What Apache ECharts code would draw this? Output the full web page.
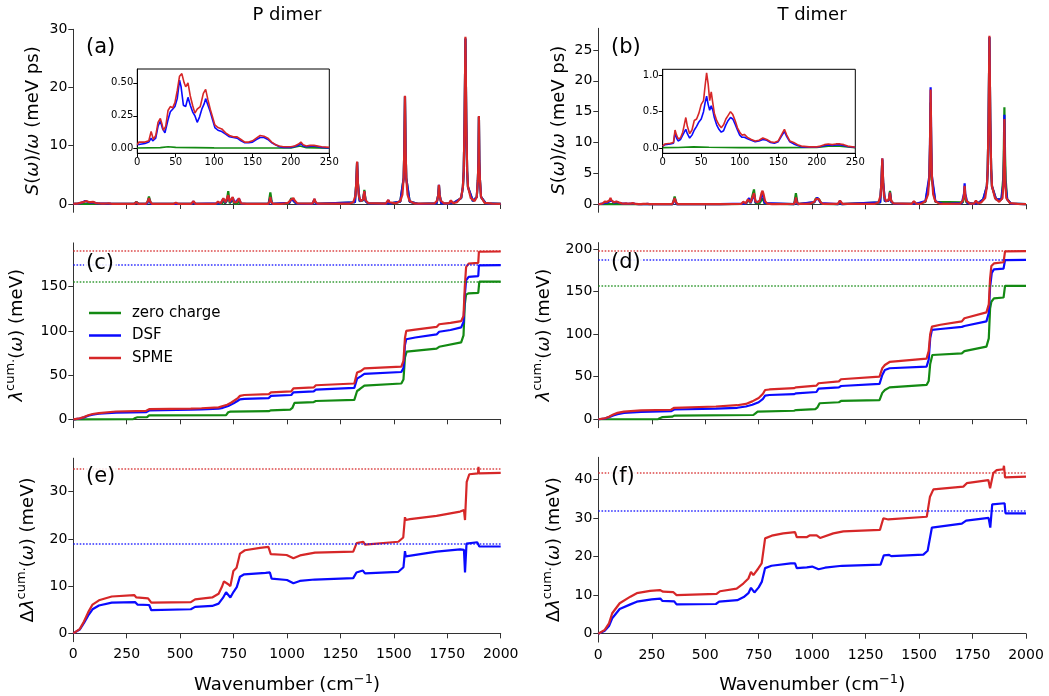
<!DOCTYPE html>
<html>
<head>
<meta charset="utf-8">
<script src="https://cdn.jsdelivr.net/npm/echarts@6/dist/echarts.min.js"></script>
<style>html,body{margin:0;background:#fff}#chart{width:1049px;height:696px}</style>
</head>
<body>
<div id="chart"></div>
<script>
// series names (legend) and colours
const seriesNames = ['zero charge', 'DSF', 'SPME'];
const xTicks = [0, 250, 500, 750, 1000, 1250, 1500, 1750, 2000];

// ---- inset data, low frequency S(w)/w, 0-250 cm-1 ----
const lowRedA = [[0,0.03],[2,0.05],[10,0.05],[15,0.06],[18,0.13],[21,0.07],[24,0.10],[27,0.20],[30,0.23],[32,0.19],[34,0.14],[37,0.17],[40,0.29],[43,0.32],[46,0.31],[49,0.35],[52,0.44],[55,0.55],[58,0.57],[61,0.50],[63,0.47],[66,0.50],[69,0.40],[72,0.33],[75,0.27],[78,0.30],[82,0.32],[86,0.42],[89,0.45],[92,0.37],[95,0.30],[98,0.24],[101,0.18],[105,0.16],[110,0.15],[115,0.12],[120,0.10],[125,0.09],[130,0.09],[135,0.07],[140,0.05],[145,0.05],[150,0.06],[155,0.08],[160,0.10],[165,0.095],[170,0.08],[175,0.05],[180,0.03],[185,0.02],[190,0.015],[200,0.015],[205,0.02],[210,0.035],[213,0.05],[216,0.03],[220,0.02],[225,0.025],[230,0.025],[240,0.015],[250,0.01]];
const lowBlueA = [[0,0.03],[10,0.04],[15,0.05],[18,0.08],[20,0.06],[24,0.08],[27,0.17],[30,0.21],[33,0.15],[36,0.12],[40,0.22],[43,0.28],[46,0.30],[49,0.32],[52,0.38],[55,0.52],[57,0.47],[60,0.33],[63,0.32],[66,0.39],[69,0.33],[72,0.28],[75,0.25],[78,0.20],[81,0.24],[84,0.30],[87,0.34],[89,0.38],[92,0.33],[95,0.28],[98,0.22],[101,0.16],[105,0.14],[110,0.13],[115,0.11],[120,0.09],[125,0.085],[130,0.08],[135,0.06],[140,0.045],[145,0.045],[150,0.05],[155,0.07],[160,0.085],[165,0.085],[170,0.07],[175,0.045],[180,0.03],[185,0.015],[190,0.01],[200,0.01],[210,0.025],[213,0.04],[216,0.02],[220,0.015],[230,0.02],[240,0.01],[250,0.005]];
const lowGreenA = [[0,0.005],[30,0.008],[40,0.015],[50,0.01],[100,0.006],[150,0.005],[200,0.006],[212,0.02],[220,0.008],[250,0.004]];

const lowRedB = [[0,0.03],[3,0.06],[10,0.07],[14,0.08],[16,0.25],[18,0.18],[20,0.13],[23,0.14],[26,0.22],[28,0.32],[30,0.42],[32,0.30],[35,0.20],[38,0.25],[41,0.38],[44,0.40],[47,0.48],[50,0.60],[53,0.65],[55,0.85],[57,1.03],[59,0.88],[61,0.65],[63,0.77],[65,0.62],[67,0.48],[70,0.38],[73,0.32],[76,0.28],[79,0.32],[82,0.40],[85,0.45],[88,0.50],[91,0.46],[94,0.38],[97,0.28],[100,0.22],[103,0.18],[106,0.19],[110,0.15],[115,0.12],[120,0.10],[125,0.11],[130,0.14],[135,0.12],[140,0.09],[145,0.08],[150,0.10],[155,0.20],[158,0.26],[161,0.18],[165,0.10],[170,0.08],[175,0.05],[180,0.03],[190,0.02],[200,0.02],[205,0.03],[210,0.05],[215,0.06],[220,0.05],[225,0.06],[230,0.06],[235,0.05],[240,0.03],[250,0.015]];
const lowBlueB = [[0,0.03],[3,0.05],[10,0.06],[14,0.07],[16,0.21],[18,0.14],[20,0.10],[23,0.12],[26,0.18],[28,0.22],[30,0.26],[32,0.20],[35,0.14],[38,0.18],[41,0.25],[44,0.30],[47,0.36],[50,0.40],[53,0.50],[55,0.62],[57,0.71],[59,0.60],[61,0.52],[63,0.58],[65,0.52],[67,0.42],[70,0.32],[73,0.26],[76,0.22],[79,0.24],[82,0.32],[85,0.38],[88,0.42],[91,0.40],[94,0.33],[97,0.25],[100,0.18],[103,0.15],[106,0.15],[110,0.13],[115,0.11],[120,0.09],[125,0.10],[130,0.12],[135,0.11],[140,0.08],[145,0.07],[150,0.09],[155,0.18],[158,0.23],[161,0.16],[165,0.09],[170,0.06],[175,0.04],[180,0.02],[190,0.015],[200,0.015],[210,0.035],[215,0.045],[220,0.04],[225,0.045],[230,0.05],[240,0.025],[250,0.01]];
const lowGreenB = [[0,0.01],[20,0.012],[40,0.02],[60,0.015],[100,0.01],[150,0.01],[200,0.012],[215,0.03],[230,0.03],[250,0.01]];

// ---- S(w)/w above 250 cm-1 ----
const peakRedA = [[260,0.02],[285,0.03],[295,0.3],[305,0.03],[340,0.03],[348,0.4],[354,1.0],[360,0.4],[368,0.03],[470,0.02],[480,0.2],[490,0.02],[552,0.03],[562,0.5],[572,0.03],[667,0.03],[677,0.4],[690,0.1],[702,1.0],[712,0.3],[718,0.6],[725,1.5],[732,0.4],[740,0.5],[746,1.2],[752,0.3],[765,0.3],[775,1.0],[785,0.1],[812,0.02],[820,0.2],[828,0.02],[912,0.03],[918,0.4],[922,1.2],[926,0.4],[934,0.03],[972,0.02],[980,0.2],[990,0.1],[1005,0.2],[1015,0.6],[1022,0.9],[1030,1.0],[1036,0.6],[1048,0.1],[1118,0.05],[1124,0.4],[1128,0.9],[1133,0.4],[1142,0.05],[1290,0.05],[1310,0.3],[1320,1.4],[1324,3.5],[1328,7.3],[1332,3.5],[1336,1.4],[1345,0.5],[1356,0.8],[1362,2.2],[1367,0.7],[1380,0.15],[1462,0.05],[1470,0.3],[1474,0.7],[1479,0.3],[1488,0.05],[1510,0.1],[1530,0.5],[1540,1.6],[1546,4.5],[1549,9.5],[1552,18.6],[1555,9.5],[1558,4.5],[1564,1.6],[1574,0.5],[1595,0.1],[1612,0.05],[1618,0.3],[1624,0.05],[1690,0.1],[1703,0.6],[1708,1.6],[1711,3.3],[1714,1.6],[1719,0.6],[1735,0.1],[1758,0.1],[1767,0.6],[1776,0.15],[1795,0.3],[1815,1.1],[1823,2.9],[1827,5.7],[1831,14.3],[1835,28.7],[1839,14.3],[1843,5.7],[1847,2.9],[1860,1.0],[1878,0.5],[1888,1.2],[1893,4.0],[1896,7.5],[1898,15.1],[1900,7.5],[1903,4.0],[1908,1.2],[1925,0.2],[1960,0.05],[2000,0.02]];
const peakBlueA = [[260,0.01],[285,0.02],[295,0.25],[305,0.02],[345,0.02],[354,0.9],[363,0.02],[555,0.02],[562,0.45],[569,0.02],[690,0.1],[702,0.9],[712,0.2],[725,1.3],[735,0.3],[746,1.1],[755,0.2],[775,0.9],[785,0.05],[914,0.02],[922,1.1],[930,0.02],[1010,0.2],[1022,0.85],[1030,0.95],[1045,0.05],[1120,0.03],[1128,0.85],[1136,0.03],[1318,0.3],[1324,3.4],[1328,7.2],[1332,3.4],[1340,0.5],[1356,0.7],[1362,2.1],[1368,0.5],[1380,0.1],[1468,0.05],[1474,0.65],[1480,0.05],[1530,0.4],[1546,4.4],[1549,9.3],[1552,18.5],[1555,9.3],[1558,4.4],[1574,0.4],[1612,0.02],[1618,0.28],[1624,0.02],[1700,0.1],[1708,1.6],[1711,3.3],[1714,1.6],[1722,0.1],[1760,0.05],[1767,0.55],[1774,0.05],[1815,1.0],[1823,2.9],[1827,5.6],[1831,14.1],[1835,28.4],[1839,14.1],[1843,5.6],[1847,2.9],[1870,0.5],[1888,1.2],[1893,4.0],[1896,7.4],[1898,15.0],[1900,7.4],[1903,4.0],[1908,1.2],[1930,0.1],[2000,0.01]];
const peakGreenA = [[260,0.005],[285,0.02],[295,0.4],[305,0.02],[345,0.02],[354,1.3],[363,0.02],[555,0.02],[562,0.4],[569,0.02],[695,0.02],[702,0.6],[710,0.1],[718,0.5],[725,2.2],[732,0.1],[740,0.2],[746,0.8],[752,0.05],[768,0.05],[775,0.6],[782,0.02],[914,0.02],[922,2.0],[930,0.02],[1010,0.1],[1020,1.0],[1028,1.2],[1036,0.3],[1048,0.02],[1120,0.02],[1128,0.7],[1136,0.02],[1318,0.3],[1324,3.5],[1328,7.2],[1332,3.5],[1340,0.5],[1356,0.6],[1362,2.4],[1368,0.5],[1380,0.1],[1468,0.05],[1474,0.6],[1480,0.05],[1530,0.4],[1546,4.5],[1549,9.5],[1552,18.4],[1555,9.5],[1558,4.5],[1574,0.4],[1612,0.02],[1618,0.25],[1624,0.02],[1700,0.1],[1708,1.6],[1711,3.2],[1714,1.6],[1722,0.1],[1760,0.05],[1767,0.5],[1774,0.05],[1815,1.0],[1823,2.9],[1827,5.6],[1831,14.1],[1835,28.4],[1839,14.1],[1843,5.6],[1847,2.9],[1870,0.5],[1888,1.2],[1893,4.0],[1896,7.5],[1898,15.0],[1900,7.5],[1903,4.0],[1908,1.2],[1930,0.1],[2000,0.01]];

const peakRedB = [[260,0.015],[288,0.02],[296,0.15],[304,0.02],[345,0.03],[351,0.4],[357,1.0],[363,0.4],[370,0.03],[552,0.03],[561,0.3],[570,0.03],[668,0.05],[678,0.4],[690,0.15],[700,0.8],[705,1.1],[712,0.3],[720,0.6],[728,1.8],[735,0.5],[745,0.3],[755,0.6],[763,1.8],[768,2.2],[773,1.6],[780,0.5],[790,0.1],[812,0.03],[820,0.3],[828,0.03],[915,0.05],[920,0.4],[924,1.1],[928,0.4],[935,0.05],[970,0.05],[979,0.3],[990,0.1],[1010,0.4],[1018,0.9],[1024,1.2],[1032,0.8],[1040,0.3],[1050,0.05],[1120,0.05],[1126,0.3],[1130,0.6],[1135,0.3],[1142,0.05],[1290,0.05],[1310,0.3],[1320,1.4],[1324,3.6],[1328,7.45],[1332,3.6],[1336,1.4],[1345,0.5],[1358,0.7],[1364,1.9],[1369,0.6],[1380,0.15],[1465,0.05],[1471,0.2],[1476,0.5],[1481,0.2],[1488,0.05],[1510,0.1],[1530,0.5],[1542,1.6],[1548,4.5],[1551,9.5],[1554,18.6],[1557,9.5],[1560,4.5],[1566,1.6],[1576,0.5],[1595,0.1],[1614,0.05],[1621,0.3],[1628,0.05],[1692,0.1],[1705,0.6],[1710,1.5],[1713,3.0],[1716,1.5],[1721,0.6],[1737,0.1],[1757,0.1],[1766,0.6],[1775,0.15],[1790,0.3],[1809,1.0],[1817,2.9],[1821,5.7],[1825,13.6],[1829,27.3],[1833,13.6],[1837,5.7],[1841,2.9],[1855,1.0],[1875,0.4],[1890,1.0],[1895,3.5],[1897,7.0],[1899,13.8],[1901,7.0],[1903,3.5],[1908,1.0],[1925,0.2],[1960,0.05],[2000,0.02]];
const peakBlueB = [[260,0.01],[288,0.02],[296,0.15],[304,0.02],[348,0.02],[357,0.95],[366,0.02],[555,0.02],[561,0.28],[567,0.02],[690,0.1],[705,1.0],[712,0.2],[728,1.6],[735,0.3],[755,0.5],[768,1.9],[778,0.2],[916,0.03],[924,1.0],[932,0.03],[1010,0.35],[1024,1.1],[1040,0.2],[1122,0.03],[1130,0.55],[1138,0.03],[1318,0.3],[1324,3.6],[1328,7.4],[1332,3.6],[1340,0.5],[1358,0.6],[1364,1.9],[1370,0.4],[1382,0.1],[1470,0.05],[1476,0.45],[1482,0.05],[1530,0.5],[1548,4.6],[1551,9.7],[1554,18.95],[1557,9.7],[1560,4.6],[1576,0.5],[1614,0.05],[1621,0.3],[1628,0.05],[1700,0.2],[1710,1.7],[1713,3.4],[1716,1.7],[1726,0.2],[1760,0.05],[1766,0.55],[1772,0.05],[1800,0.8],[1817,2.9],[1821,5.7],[1825,13.5],[1829,27.1],[1833,13.5],[1837,5.7],[1841,2.9],[1860,0.8],[1885,0.8],[1895,3.6],[1897,7.2],[1899,14.5],[1901,7.2],[1903,3.6],[1912,0.8],[1930,0.1],[2000,0.01]];
const peakGreenB = [[260,0.02],[288,0.02],[296,0.2],[304,0.02],[348,0.02],[357,1.25],[366,0.02],[555,0.02],[561,0.25],[567,0.02],[690,0.05],[700,0.7],[705,0.9],[712,0.2],[720,0.5],[728,2.4],[735,0.2],[755,0.2],[768,1.0],[778,0.1],[916,0.02],[924,1.8],[932,0.02],[1010,0.3],[1018,1.0],[1024,1.3],[1032,0.8],[1045,0.05],[1122,0.02],[1130,0.5],[1138,0.02],[1318,0.3],[1324,3.5],[1328,7.2],[1332,3.5],[1340,0.5],[1358,0.6],[1364,2.16],[1370,0.4],[1382,0.1],[1470,0.05],[1476,0.4],[1482,0.05],[1530,0.4],[1548,4.0],[1551,8.5],[1554,16.5],[1557,8.5],[1560,4.0],[1576,0.4],[1705,0.3],[1713,1.8],[1721,0.3],[1760,0.05],[1766,0.5],[1772,0.05],[1800,0.8],[1817,2.9],[1821,5.7],[1825,13.5],[1829,27.0],[1833,13.5],[1837,5.7],[1841,2.9],[1860,0.8],[1885,0.8],[1893,4.0],[1896,8.0],[1899,15.7],[1902,8.0],[1905,4.0],[1912,0.8],[1930,0.1],[2000,0.01]];

// ---- cumulative reorganisation energy (meV) ----
const cumRedC = [[0,0],[30,1],[50,2.5],[70,4.5],[90,6],[120,7],[200,8.8],[340,9.5],[355,11.5],[550,12],[600,12.5],[680,13.5],[700,15],[720,16.5],[740,19],[770,24],[780,26.5],[800,27.5],[915,28.5],[925,30.5],[1020,31.5],[1030,35],[1125,36],[1135,38.5],[1315,40.5],[1328,53],[1345,54.5],[1362,57.5],[1535,59.5],[1545,66],[1552,92],[1558,100],[1600,101.5],[1700,104.5],[1712,107.5],[1765,109],[1815,111],[1826,117],[1832,150],[1838,172],[1850,176],[1895,177],[1898,189.5],[2000,189.8]];
const cumBlueC = [[0,0],[30,0.8],[50,2.2],[70,4],[90,5.2],[120,6.3],[200,7.5],[340,8],[355,10],[550,10.8],[600,11.2],[680,12],[700,13],[725,15],[750,18],[770,21],[780,22.5],[800,23],[915,24],[925,26.5],[1020,27.5],[1030,30.5],[1125,31.5],[1135,33.5],[1315,35.5],[1328,46],[1345,48.5],[1362,51.3],[1535,53.5],[1545,58],[1552,84],[1558,90.5],[1600,92.5],[1700,96],[1712,99],[1765,101],[1815,104],[1826,110],[1832,140],[1838,157],[1850,161],[1895,162],[1898,174],[2000,174.3]];
const cumGreenC = [[0,0],[280,0.2],[290,1.5],[300,2.3],[345,2.5],[355,4.5],[715,4.8],[725,8],[735,8.7],[915,9.2],[925,10.2],[1015,11],[1025,12.8],[1035,18.5],[1125,19.5],[1135,20.7],[1315,22],[1328,32],[1340,34],[1362,38],[1535,40.5],[1545,45],[1552,70],[1560,76.5],[1700,80],[1712,82],[1815,87],[1826,95],[1832,130],[1838,141],[1850,142.5],[1895,143],[1900,155.7],[2000,155.7]];
const refC = [155.7, 174.8, 190.7];

const cumRedD = [[0,0],[30,1],[50,3],[70,5.5],[90,7.5],[120,9],[200,10.5],[340,11.2],[355,13.5],[550,15],[650,16.5],[690,18],[720,21],[750,25],[770,30],[780,34.4],[800,35],[915,36.5],[925,37.5],[1020,39.5],[1030,42.3],[1125,44.5],[1135,47],[1315,50],[1328,60],[1340,63.8],[1362,67.3],[1535,71.2],[1545,80],[1552,100],[1560,108.8],[1600,111],[1700,115],[1712,118.6],[1815,125.5],[1826,135],[1832,165],[1838,180],[1850,183],[1895,184.4],[1902,197.3],[2000,197.6]];
const cumBlueD = [[0,0],[30,0.8],[50,2.5],[70,4.5],[90,6],[120,7.5],[200,8.8],[340,9.5],[355,11.5],[550,12.5],[650,13.5],[690,15],[720,17],[750,20],[770,24],[780,27.8],[800,28.5],[915,29.5],[925,30.5],[1020,32],[1030,36],[1125,37.5],[1135,39.1],[1315,41.5],[1328,52],[1340,57.9],[1362,59.9],[1535,61.8],[1545,70],[1552,95],[1560,104.9],[1600,106],[1700,108.5],[1712,109.6],[1815,115],[1826,125],[1832,155],[1840,172],[1850,176],[1895,177],[1902,187],[2000,187.3]];
const cumGreenD = [[0,0],[280,0.2],[290,1.5],[300,2.5],[345,3],[355,4.3],[725,5],[735,7],[745,9],[915,10],[925,10.8],[1015,12],[1025,14],[1035,18.8],[1125,20],[1135,21.5],[1315,22.5],[1328,31],[1340,34.4],[1362,37.5],[1535,40.3],[1545,45],[1552,65],[1562,75.5],[1700,77.5],[1712,80],[1815,85.3],[1826,95],[1832,130],[1838,138],[1850,142],[1895,143],[1902,156.6],[2000,156.6]];
const refD = [156.6, 187.9, 197.6];

// ---- difference to zero charge (meV) ----
const diffRedE = [[0,0],[30,0.9],[50,2.5],[70,4.5],[90,6.1],[120,7.0],[180,7.8],[285,8.1],[295,7.6],[350,7.4],[365,6.5],[550,6.6],[570,7.2],[650,7.6],[680,8.4],[695,9.8],[705,11.0],[713,11.3],[725,10.4],[735,10.0],[749,13.2],[764,13.9],[780,16.9],[803,17.6],[874,18.1],[913,18.3],[924,16.8],[998,16.6],[1030,15.9],[1061,16.5],[1131,17.1],[1310,17.3],[1326,19.1],[1357,19.4],[1365,18.8],[1521,19.4],[1544,20.3],[1552,24.6],[1556,24.0],[1576,24.2],[1700,24.9],[1810,25.8],[1828,26.1],[1833,24.0],[1841,32.1],[1853,33.7],[1894,33.9],[1896,35.3],[1898,33.9],[2000,34.0]];
const diffBlueE = [[0,0],[30,0.8],[50,2.2],[70,3.8],[90,5.1],[120,5.9],[180,6.5],[290,6.6],[300,6.1],[355,6.0],[365,4.9],[550,5.1],[570,5.6],[650,5.8],[680,6.3],[700,7.5],[715,8.7],[735,7.6],[750,8.8],[765,9.8],[780,12.0],[800,12.5],[900,12.8],[920,12.9],[928,11.6],[1000,11.3],[1030,10.6],[1060,11.1],[1130,11.4],[1310,11.7],[1325,12.9],[1355,13.3],[1365,12.7],[1520,13.0],[1545,14.0],[1552,17.4],[1556,16.3],[1560,16.6],[1700,17.3],[1810,17.8],[1828,17.7],[1833,12.9],[1840,19.0],[1890,19.3],[1898,19.5],[1900,18.4],[2000,18.4]];
const refE = [18.9, 34.8];

const diffRedF = [[0,0],[30,1.0],[50,2.7],[65,5.3],[100,7.9],[150,9.6],[180,10.5],[242,11.1],[288,11.3],[303,10.9],[350,10.8],[366,10.0],[553,10.3],[569,11.0],[647,11.7],[678,13.0],[702,14.3],[714,16.0],[725,15.2],[733,14.8],[748,16.9],[764,18.2],[780,24.7],[811,25.4],[865,26.0],[920,26.3],[928,25.0],[974,25.0],[990,25.5],[1021,25.5],[1037,24.8],[1099,26.0],[1146,26.5],[1317,26.9],[1333,29.9],[1356,29.6],[1536,30.3],[1551,35.5],[1567,37.4],[1707,38.1],[1723,39.0],[1824,39.8],[1832,37.7],[1847,41.6],[1863,42.4],[1894,42.6],[1897,43.5],[1902,40.5],[2000,40.7]];
const diffBlueF = [[0,0],[30,0.8],[50,2.0],[65,4.0],[100,6.4],[150,7.6],[180,8.3],[250,8.9],[290,9.1],[300,8.5],[355,8.4],[366,7.6],[550,7.7],[565,8.3],[650,8.7],[680,9.5],[702,10.5],[714,11.9],[730,10.7],[750,12.0],[765,13.5],[780,17.0],[810,17.6],[900,18.2],[920,18.2],[928,17.0],[975,17.2],[1000,17.4],[1030,16.7],[1060,17.1],[1140,17.6],[1320,17.9],[1335,20.3],[1360,20.4],[1370,20.1],[1520,20.5],[1540,21.5],[1560,27.5],[1700,28.5],[1720,29.3],[1825,30.0],[1833,27.5],[1842,33.5],[1900,33.8],[1904,31.2],[2000,31.2]];
const refF = [31.8, 41.6];

// tick labels of the y axes
const yTicksA = [0, 10, 20, 30];
const yTicksB = [0, 5, 10, 15, 20, 25];
const yTicksC = [0, 50, 100, 150];
const yTicksD = [0, 50, 100, 150, 200];
const yTicksE = [0, 10, 20, 30];
const yTicksF = [0, 10, 20, 30, 40];
const insetXTicks = [0, 50, 100, 150, 200, 250];
const insetYTicksA = [0, 0.25, 0.5];
const insetYTicksB = [0, 0.5, 1.0];

const FONT = 'DejaVu Sans';
const GREEN = '#138a13', BLUE = '#0a0aff', RED = '#d62728';

const chart = echarts.init(document.getElementById('chart'));

const grids = [
  {left: 73.3, top: 29.3, width: 427.4, height: 183},     // a
  {left: 598.3, top: 28.3, width: 427.7, height: 184},    // b
  {left: 73.3, top: 242.9, width: 427.4, height: 184.8},  // c
  {left: 598.3, top: 242.6, width: 427.7, height: 185.1}, // d
  {left: 73.3, top: 458.2, width: 427.4, height: 183.5},  // e
  {left: 598.3, top: 457.3, width: 427.7, height: 184.8}, // f
  {left: 137.3, top: 69, width: 192, height: 84.3, show: true, backgroundColor: '#fff', borderColor: '#000', borderWidth: 1, z: 5},
  {left: 662.7, top: 69.3, width: 192.6, height: 84, show: true, backgroundColor: '#fff', borderColor: '#000', borderWidth: 1, z: 5}
];

const nameStyle = {
  fontFamily: FONT, fontSize: 18, color: '#000',
  rich: {
    i: {fontFamily: FONT, fontSize: 18, fontStyle: 'italic', color: '#000'},
    s: {fontFamily: FONT, fontSize: 13, color: '#000', padding: [0, 0, 14, 0]}
  }
};

function mainX(i, showLabel) {
  return {
    type: 'value', gridIndex: i, min: 0, max: 2000, interval: 250,
    axisLine: {lineStyle: {color: '#333', width: 1}},
    axisTick: {length: 5, lineStyle: {color: '#333'}, customValues: xTicks},
    axisLabel: {show: showLabel, fontFamily: FONT, fontSize: 14, color: '#000', margin: 6,
      customValues: xTicks, formatter: v => String(v)},
    splitLine: {show: false},
    name: showLabel ? 'Wavenumber (cm{s|−1})' : '',
    nameLocation: 'middle', nameGap: 31,
    nameTextStyle: Object.assign({}, nameStyle, {rich: {s: {fontFamily: FONT, fontSize: 13, color: '#000', padding: [0, 0, 12, 0]}}})
  };
}

function mainY(i, min, max, ticks, name, gap) {
  return {
    type: 'value', gridIndex: i, min: min, max: max,
    axisLine: {show: true, lineStyle: {color: '#333', width: 1}},
    axisTick: {show: true, length: 5, lineStyle: {color: '#333'}, customValues: ticks},
    axisLabel: {fontFamily: FONT, fontSize: 14, color: '#000', margin: 6, customValues: ticks},
    splitLine: {show: false},
    name: name, nameLocation: 'middle', nameGap: gap, nameTextStyle: nameStyle
  };
}

function insetX(i) {
  return {
    type: 'value', gridIndex: i, min: 0, max: 250, interval: 50, z: 6,
    axisLine: {onZero: false, lineStyle: {color: '#000'}},
    axisTick: {length: 4, lineStyle: {color: '#000'}, customValues: insetXTicks},
    axisLabel: {fontFamily: FONT, fontSize: 10, color: '#000', margin: 4, customValues: insetXTicks},
    splitLine: {show: false}
  };
}

function insetY(i, min, max, ticks, digits) {
  return {
    type: 'value', gridIndex: i, min: min, max: max, z: 6,
    axisLine: {show: true, lineStyle: {color: '#000'}},
    axisTick: {show: true, length: 4, lineStyle: {color: '#000'}, customValues: ticks},
    axisLabel: {fontFamily: FONT, fontSize: 10, color: '#000', margin: 4, customValues: ticks,
      formatter: v => v.toFixed(digits)},
    splitLine: {show: false}
  };
}

function line(name, color, i, data, width, z, refs) {
  const s = {
    name: name, type: 'line', xAxisIndex: i, yAxisIndex: i, data: data,
    showSymbol: false, symbol: 'none', animation: false, z: z,
    lineStyle: {color: color, width: width}, itemStyle: {color: color}
  };
  if (refs !== undefined) {
    s.markLine = {
      silent: true, symbol: 'none', label: {show: false}, animation: false,
      lineStyle: {color: color, type: 'dotted', width: 1.6, opacity: 0.85},
      data: [{yAxis: refs}]
    };
  }
  return s;
}

const SW = '{i|S}({i|ω})/{i|ω} (meV ps)';
const LAM = '{i|λ}{s|cum.}({i|ω}) (meV)';
const DLAM = 'Δ{i|λ}{s|cum.}({i|ω}) (meV)';

const series = [
  line(seriesNames[0], GREEN, 0, lowGreenA.concat(peakGreenA), 2.2, 2),
  line(seriesNames[1], BLUE, 0, lowBlueA.concat(peakBlueA), 2.2, 2),
  line(seriesNames[2], RED, 0, lowRedA.concat(peakRedA), 2.2, 2),
  line(seriesNames[0], GREEN, 1, lowGreenB.concat(peakGreenB), 2.2, 2),
  line(seriesNames[1], BLUE, 1, lowBlueB.concat(peakBlueB), 2.2, 2),
  line(seriesNames[2], RED, 1, lowRedB.concat(peakRedB), 2.2, 2),
  line(seriesNames[0], GREEN, 2, cumGreenC, 2.2, 2, refC[0]),
  line(seriesNames[1], BLUE, 2, cumBlueC, 2.2, 2, refC[1]),
  line(seriesNames[2], RED, 2, cumRedC, 2.2, 2, refC[2]),
  line(seriesNames[0], GREEN, 3, cumGreenD, 2.2, 2, refD[0]),
  line(seriesNames[1], BLUE, 3, cumBlueD, 2.2, 2, refD[1]),
  line(seriesNames[2], RED, 3, cumRedD, 2.2, 2, refD[2]),
  line(seriesNames[1], BLUE, 4, diffBlueE, 2.2, 2, refE[0]),
  line(seriesNames[2], RED, 4, diffRedE, 2.2, 2, refE[1]),
  line(seriesNames[1], BLUE, 5, diffBlueF, 2.2, 2, refF[0]),
  line(seriesNames[2], RED, 5, diffRedF, 2.2, 2, refF[1]),
  line(seriesNames[0], GREEN, 6, lowGreenA, 1.6, 7),
  line(seriesNames[1], BLUE, 6, lowBlueA, 1.6, 7),
  line(seriesNames[2], RED, 6, lowRedA, 1.6, 7),
  line(seriesNames[0], GREEN, 7, lowGreenB, 1.6, 7),
  line(seriesNames[1], BLUE, 7, lowBlueB, 1.6, 7),
  line(seriesNames[2], RED, 7, lowRedB, 1.6, 7)
];

function label(text, x, y, size, bg) {
  return {
    type: 'text', x: x, y: y, z: 100,
    style: {text: text, fill: '#000', font: size + 'px "DejaVu Sans"',
      align: bg ? 'left' : 'center', verticalAlign: 'middle',
      backgroundColor: bg ? 'rgba(255,255,255,0.85)' : null, padding: bg ? [0, 2] : 0}
  };
}

chart.setOption({
  backgroundColor: '#fff',
  animation: false,
  grid: grids,
  xAxis: [mainX(0, false), mainX(1, false), mainX(2, false), mainX(3, false), mainX(4, true), mainX(5, true), insetX(6), insetX(7)],
  yAxis: [
    mainY(0, -1.43, 30, yTicksA, SW, 31),
    mainY(1, -1.3, 28.5, yTicksB, SW, 30),
    mainY(2, -9.5, 199.5, yTicksC, LAM, 42),
    mainY(3, -9.9, 207.5, yTicksD, LAM, 40),
    mainY(4, -1.77, 37.1, yTicksE, DLAM, 31),
    mainY(5, -2.17, 45.7, yTicksF, DLAM, 30),
    insetY(6, -0.035, 0.605, insetYTicksA, 2),
    insetY(7, -0.068, 1.078, insetYTicksB, 1)
  ],
  legend: {
    data: seriesNames, orient: 'vertical', left: 84, top: 300,
    icon: 'rect', itemWidth: 32, itemHeight: 2.5, itemGap: 6.5, selectedMode: false,
    textStyle: {fontFamily: FONT, fontSize: 15, color: '#000', lineHeight: 16, padding: [0, 0, 0, 6]}
  },
  graphic: [
    label('P dimer', 287, 15, 18, false),
    label('T dimer', 812, 15, 18, false),
    label('(a)', 84, 48, 21, true),
    label('(b)', 609, 48, 21, true),
    label('(c)', 84, 264, 21, true),
    label('(d)', 609, 263, 21, true),
    label('(e)', 84, 477, 21, true),
    label('(f)', 609, 477, 21, true)
  ],
  series: series
});
</script>
</body>
</html>
